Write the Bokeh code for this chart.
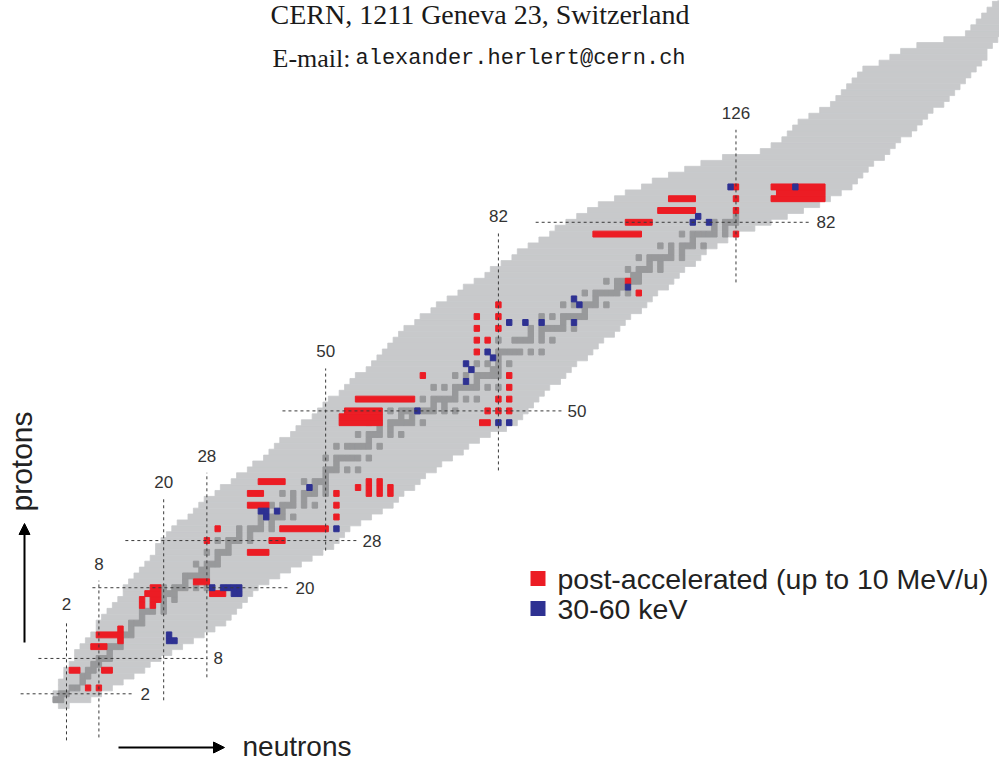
from bokeh.plotting import figure
from bokeh.models import Range1d, Label, Arrow, NormalHead, BoxAnnotation, ColumnDataSource
from bokeh.embed import file_html
from bokeh.resources import INLINE

# ---------------- data ----------------
# band of predicted nuclides: for every proton number Z the first and last neutron number
band_z = list(range(0, 121))
band_nmin = [1, 0, 0, 1, 1, 2, 2, 3, 4, 4,
             5, 6, 7, 8, 8, 9, 10, 11, 12, 13,
             13, 14, 15, 16, 17, 18, 19, 19, 20, 21,
             22, 23, 25, 26, 27, 28, 30, 31, 33, 34,
             36, 37, 39, 40, 41, 42, 44, 45, 46, 48,
             49, 50, 51, 53, 54, 55, 56, 58, 59, 60,
             61, 62, 63, 64, 65, 67, 68, 70, 71, 73,
             75, 76, 78, 80, 81, 83, 85, 86, 88, 90,
             92, 93, 95, 97, 99, 101, 104, 106, 109, 111,
             114, 117, 120, 124, 131, 133, 135, 136, 137, 138,
             140, 142, 144, 145, 146, 147, 148, 149, 150, 153,
             155, 157, 160, 165, 169, 170, 171, 172, 173, 174,
             175]
band_nmax = [2, 6, 8, 10, 12, 14, 16, 17, 19, 21,
             23, 25, 27, 29, 31, 32, 33, 34, 35, 36,
             37, 39, 41, 43, 45, 47, 49, 51, 52, 53,
             54, 56, 58, 60, 62, 63, 64, 66, 67, 68,
             70, 71, 73, 75, 76, 78, 80, 83, 85, 86,
             87, 88, 89, 90, 91, 93, 94, 95, 96, 98,
             99, 100, 101, 103, 104, 105, 106, 108, 109, 110,
             111, 113, 114, 115, 116, 118, 119, 120, 122, 124,
             126, 129, 132, 135, 138, 141, 143, 145, 147, 148,
             149, 150, 151, 153, 154, 155, 156, 158, 159, 160,
             161, 162, 164, 165, 166, 167, 168, 169, 170, 171,
             172, 172, 173, 174, 175, 176, 177, 178, 179, 180,
             181]

# stable nuclides: neutron numbers for Z = 1 .. 83
stable_n_by_z = [
    [0, 1], [1, 2], [3, 4], [5], [5, 6], [6, 7], [7, 8], [8, 9, 10], [10], [10, 11, 12],
    [12], [12, 13, 14], [14], [14, 15, 16], [16], [16, 17, 18, 20], [18, 20], [18, 20, 22],
    [20, 21, 22], [20, 22, 23, 24, 26, 28], [24], [24, 25, 26, 27, 28], [27, 28],
    [26, 28, 29, 30], [30], [28, 30, 31, 32], [32], [30, 32, 33, 34, 36], [34, 36],
    [34, 36, 37, 38, 40], [38, 40], [38, 40, 41, 42, 44], [42], [40, 42, 43, 44, 46, 48],
    [44, 46], [42, 44, 46, 47, 48, 50], [48, 50], [46, 48, 49, 50], [50], [50, 51, 52, 54, 56],
    [52], [50, 52, 53, 54, 55, 56, 58], [], [52, 54, 55, 56, 57, 58, 60], [58],
    [56, 58, 59, 60, 62, 64], [60, 62], [58, 60, 62, 63, 64, 65, 66, 68], [64, 66],
    [62, 64, 65, 66, 67, 68, 69, 70, 72, 74], [70, 72], [68, 70, 71, 72, 73, 74, 76, 78], [74],
    [70, 72, 74, 75, 76, 77, 78, 80, 82], [78], [74, 76, 78, 79, 80, 81, 82], [81, 82],
    [78, 80, 82, 84], [82], [82, 83, 84, 85, 86, 88, 90], [], [82, 85, 86, 87, 88, 90, 92],
    [88, 90], [88, 90, 91, 92, 93, 94, 96], [94], [90, 92, 94, 95, 96, 97, 98], [98],
    [94, 96, 98, 99, 100, 102], [100], [98, 100, 101, 102, 103, 104, 106], [104, 105],
    [102, 104, 105, 106, 107, 108], [107, 108], [106, 108, 109, 110, 112], [110, 112],
    [108, 110, 111, 112, 113, 114, 116], [114, 116], [112, 114, 116, 117, 118, 120], [118],
    [116, 118, 119, 120, 121, 122, 124], [122, 124], [122, 124, 125, 126], [126]]

# post-accelerated beams: runs of neutron numbers n0..n1 at proton number z
red_z = [3, 3, 6, 6, 10, 12, 13, 11, 20, 19, 18, 18, 17, 17, 21, 19, 28, 30,
         26, 28, 30, 34, 36, 38, 32, 34, 36, 37, 36, 37, 38, 36, 37, 38, 36, 37,
         48, 49, 50, 52, 56, 60, 62, 64, 66, 62, 64, 66, 68, 50, 50, 52, 48,
         50, 52, 54, 56, 72, 70, 80, 82, 84, 86, 80, 84, 86, 88, 86, 87, 88]
red_n0 = [6, 8, 3, 9, 7, 8, 12, 12, 18, 17, 16, 18, 16, 18, 26, 29, 28, 30,
          36, 40, 42, 36, 36, 38, 52, 52, 52, 56, 58, 58, 58, 60, 60, 60, 62, 62,
          53, 53, 54, 56, 68, 78, 78, 78, 78, 80, 82, 82, 82, 80, 82, 82, 79,
          84, 84, 84, 84, 106, 108, 100, 106, 112, 114, 126, 126, 126, 126, 133, 134, 133]
red_n1 = [6, 8, 4, 10, 9, 12, 12, 12, 19, 19, 16, 19, 16, 18, 28, 31, 28, 30,
          39, 42, 50, 39, 38, 42, 52, 52, 52, 56, 58, 58, 58, 60, 60, 60, 62, 62,
          60, 60, 60, 66, 68, 78, 78, 78, 78, 80, 82, 82, 82, 80, 82, 82, 80,
          84, 84, 84, 84, 106, 108, 108, 110, 118, 118, 126, 126, 126, 126, 142, 142, 142]

# 30-60 keV beams
blue_n = [21, 21, 22, 29, 31, 32, 33, 34, 33, 34, 38, 39, 39, 41, 47, 52, 67,
          76, 77, 76, 80, 81, 82, 84, 84, 87, 90, 96, 96, 97, 106, 118, 119, 121, 125, 137]
blue_z = [12, 11, 11, 20, 20, 20, 20, 20, 19, 19, 33, 33, 32, 33, 37, 30, 50,
          58, 57, 55, 60, 59, 48, 48, 65, 65, 65, 65, 69, 68, 71, 82, 83, 82, 88, 88]

# magic numbers and the extent of their dashed lines
magic_n = [2, 8, 20, 28, 50, 82, 126]
magic_n_zlo = [-5.9, -5.4, 0.9, 4.8, 26.3, 39.9, 71.8]
magic_n_zhi = [14.3, 21.2, 35.1, 39.5, 57.2, 80.1, 97.7]
magic_z = [2, 8, 20, 28, 50, 82]
magic_z_nlo = [-6.5, -3.2, 6.8, 12.9, 42.0, 88.9]
magic_z_nhi = [14.6, 28.1, 43.3, 55.7, 93.7, 139.8]

legend_labels = ["post-accelerated (up to 10 MeV/u)", "30-60 keV"]

# ---------------- styling / layout ----------------
LIGHT = "#c8c9cb"
DARK = "#98999b"
RED = "#ec1c24"
BLUE = "#2e3192"
LINE = "#3a3a3a"
TXT = "#333333"

W, H = 999, 761
PX0, PXS = 55.2, 5.399   # page x of N=0, pixels per neutron
PY0, PYS = 705.1, 5.894  # page y of Z=0, pixels per proton


def n_at(px):
    return (px - PX0) / PXS


def z_at(py):
    return (PY0 - py) / PYS


def sx(px):  # page px -> screen x of the frame
    return px


def sy(py):  # page px -> screen y of the frame (from bottom)
    return H - py


p = figure(width=W, height=H,
           x_range=Range1d(n_at(0), n_at(W)),
           y_range=Range1d(z_at(H), z_at(0)),
           x_axis_type=None, y_axis_type=None,
           toolbar_location=None, output_backend="svg", min_border=0)
p.outline_line_color = None
p.background_fill_color = "white"
p.border_fill_color = "white"

# band
band_src = ColumnDataSource(dict(
    left=[n - 0.5 for n in band_nmin], right=[n + 0.5 for n in band_nmax],
    bottom=[z - 0.5 for z in band_z], top=[z + 0.5 for z in band_z]))
p.quad(left="left", right="right", bottom="bottom", top="top", source=band_src,
       fill_color=LIGHT, line_color=LIGHT, line_width=0.8)

# stable
st_n, st_z = [], []
for i, ns in enumerate(stable_n_by_z):
    for n in ns:
        st_n.append(n)
        st_z.append(i + 1)
st_src = ColumnDataSource(dict(left=[n - 0.5 for n in st_n], right=[n + 0.5 for n in st_n],
                               bottom=[z - 0.5 for z in st_z], top=[z + 0.5 for z in st_z]))
p.quad(left="left", right="right", bottom="bottom", top="top", source=st_src,
       fill_color=DARK, line_color=DARK, line_width=1)

# red
red_src = ColumnDataSource(dict(left=[n - 0.5 for n in red_n0], right=[n + 0.5 for n in red_n1],
                                bottom=[z - 0.5 for z in red_z], top=[z + 0.5 for z in red_z]))
p.quad(left="left", right="right", bottom="bottom", top="top", source=red_src,
       fill_color=RED, line_color=RED, line_width=1)

# blue
blue_src = ColumnDataSource(dict(left=[n - 0.5 for n in blue_n], right=[n + 0.5 for n in blue_n],
                                 bottom=[z - 0.5 for z in blue_z], top=[z + 0.5 for z in blue_z]))
p.quad(left="left", right="right", bottom="bottom", top="top", source=blue_src,
       fill_color=BLUE, line_color=BLUE, line_width=1)

# magic lines
p.segment(x0=magic_n, y0=magic_n_zlo, x1=magic_n, y1=magic_n_zhi,
          line_color=LINE, line_width=1, line_dash="3 3")
p.segment(x0=magic_z_nlo, y0=magic_z, x1=magic_z_nhi, y1=magic_z,
          line_color=LINE, line_width=1, line_dash="3 3")

for n, ztop in zip(magic_n, magic_n_zhi):
    p.add_layout(Label(x=n, y=ztop, text=str(n), text_align="center",
                       text_baseline="middle", y_offset=17,
                       text_font="Liberation Sans", text_font_size="17px", text_color=TXT))
for z, nend in zip(magic_z, magic_z_nhi):
    p.add_layout(Label(x=nend, y=z, text=str(z), text_align="left",
                       text_baseline="middle", x_offset=6,
                       text_font="Liberation Sans", text_font_size="17px", text_color=TXT))

# header
p.add_layout(Label(x=sx(270), y=sy(13.5), x_units="screen", y_units="screen",
                   text="CERN, 1211 Geneva 23, Switzerland", text_font="Liberation Serif",
                   text_font_size="28px", text_color="#1a1a1a", text_baseline="middle"))
p.add_layout(Label(x=sx(272), y=sy(57.5), x_units="screen", y_units="screen",
                   text="E-mail:", text_font="Liberation Serif",
                   text_font_size="26px", text_color="#1a1a1a", text_baseline="middle"))
p.add_layout(Label(x=sx(355), y=sy(57.5), x_units="screen", y_units="screen",
                   text="alexander.herlert@cern.ch", text_font="Liberation Mono",
                   text_font_size="22px", text_color="#1a1a1a", text_baseline="middle"))

# legend
for (label, col, cy) in zip(legend_labels, [RED, BLUE], [578, 608]):
    p.add_layout(BoxAnnotation(left=sx(530), right=sx(545), bottom=sy(cy + 7.5), top=sy(cy - 7.5),
                               left_units="screen", right_units="screen",
                               bottom_units="screen", top_units="screen",
                               fill_color=col, fill_alpha=1, line_color=None))
    p.add_layout(Label(x=sx(557), y=sy(cy), x_units="screen", y_units="screen",
                       text=label, text_font="Liberation Sans", text_font_size="28.5px",
                       text_color="#222222", text_baseline="middle"))

# axis arrows and titles
p.add_layout(Arrow(x_start=sx(24), y_start=sy(642), x_end=sx(24), y_end=sy(523),
                   start_units="screen", end_units="screen", line_width=2, line_color="black",
                   end=NormalHead(size=11, fill_color="black", line_color="black")))
p.add_layout(Arrow(x_start=sx(118), y_start=sy(747), x_end=sx(224), y_end=sy(747),
                   start_units="screen", end_units="screen", line_width=2, line_color="black",
                   end=NormalHead(size=11, fill_color="black", line_color="black")))
p.add_layout(Label(x=sx(21), y=sy(461), x_units="screen", y_units="screen",
                   text="protons", angle=1.5708, text_align="center", text_baseline="middle",
                   text_font="Liberation Sans", text_font_size="30px", text_color="#222222"))
p.add_layout(Label(x=sx(242), y=sy(746), x_units="screen", y_units="screen",
                   text="neutrons", text_align="left", text_baseline="middle",
                   text_font="Liberation Sans", text_font_size="28px", text_color="#222222"))

open("out.html", "w").write(file_html(p, INLINE))
